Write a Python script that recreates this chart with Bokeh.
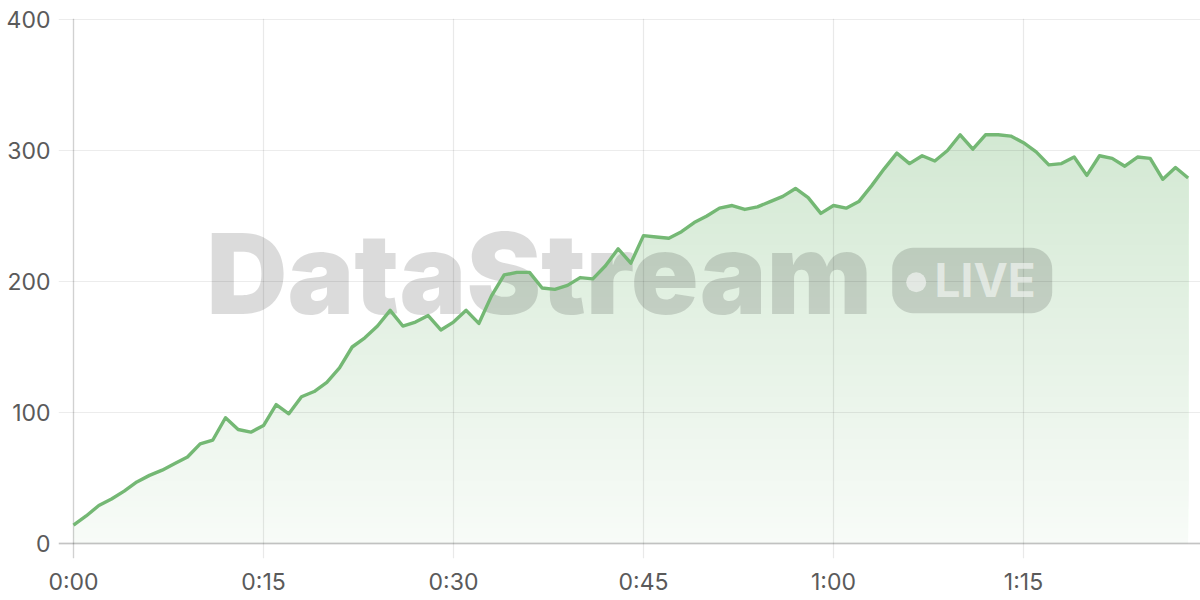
import numpy as np
from bokeh.plotting import figure
from bokeh.models import FixedTicker, Range1d
from bokeh.core.properties import value
from bokeh.embed import file_html
from bokeh.resources import INLINE

# ---- data ----
seconds = list(range(89))
viewers = [14, 21, 29, 34, 40, 47, 52, 56, 61, 66,
           76, 79, 96, 87, 85, 90, 106, 99, 112, 116,
           123, 134, 150, 157, 166, 178, 166, 169, 174, 163,
           169, 178, 168, 189, 205, 207, 207, 195, 194, 197,
           203, 202, 212, 225, 214, 235, 234, 233, 238, 245,
           250, 256, 258, 255, 257, 261, 265, 271, 264, 252,
           258, 256, 261, 273, 286, 298, 290, 296, 292, 300,
           312, 301, 312, 312, 311, 306, 299, 289, 290, 295,
           281, 296, 294, 288, 295, 294, 278, 287, 279]
x_tick_values = [0, 15, 30, 45, 60, 75]
x_tick_labels = ["0:00", "0:15", "0:30", "0:45", "1:00", "1:15"]
y_tick_values = [0, 100, 200, 300, 400]
watermark_text = "DataStream"
badge_text = "LIVE"

LINE_RGB = (116, 184, 116)
LINE_COLOR = "#74b874"
FONT = "Inter"

# canvas pixel helpers (decorative overlay placement only)
PX_X = 190 / 15.0
PX_Y = 1.31
def dx(px):
    return (px - 73) / PX_X
def dy(py):
    return (543 - py) / PX_Y

X0, X1 = dx(58), dx(1200)
Y0, Y1 = dy(558), dy(18)

p = figure(width=1200, height=600, output_backend="svg", toolbar_location=None,
           x_range=Range1d(X0, X1), y_range=Range1d(Y0, Y1),
           min_border_left=58, min_border_right=0, min_border_top=18, min_border_bottom=42)
p.outline_line_color = None
p.background_fill_color = "white"
p.border_fill_color = "white"
p.grid.visible = False

for ax in (p.xaxis[0], p.yaxis[0]):
    ax.axis_line_color = None
    ax.major_tick_line_color = None
    ax.minor_tick_line_color = None
    ax.major_tick_out = 0
    ax.major_tick_in = 0
    ax.major_label_text_font = FONT
    ax.major_label_text_font_size = "23px"
    ax.major_label_text_color = "#5a5a5a"
p.xaxis.ticker = FixedTicker(ticks=x_tick_values)
p.xaxis.major_label_overrides = {v: l for v, l in zip(x_tick_values, x_tick_labels)}
p.xaxis.major_label_standoff = 9
p.yaxis.ticker = FixedTicker(ticks=y_tick_values)
p.yaxis.major_label_standoff = 8

# gradient fill: stacked opaque layers, each from its level up to the data line
v = np.array(viewers, dtype=float)
step = 4.0
def alpha_at(y):
    return min(0.05 + 0.27 * y / 312.0, 0.6)
def mix(a):
    r, g, b = (round(255 - a * (255 - c)) for c in LINE_RGB)
    return "#%02x%02x%02x" % (r, g, b)
for lo in np.arange(0, v.max(), step):
    p.varea(x=seconds, y1=np.minimum(v, lo), y2=v,
            fill_color=mix(alpha_at(lo + step / 2)), fill_alpha=1.0)

# grid lines above fill
p.segment(x0=x_tick_values, y0=[Y0] * len(x_tick_values), x1=x_tick_values, y1=[Y1] * len(x_tick_values),
          line_color="black", line_alpha=0.085, line_width=1.2)
p.segment(x0=[X0] * len(y_tick_values), y0=y_tick_values, x1=[X1] * len(y_tick_values), y1=y_tick_values,
          line_color="black", line_alpha=0.075, line_width=1.2)
# axis lines
p.segment(x0=[0], y0=[Y0], x1=[0], y1=[Y1], line_color="black", line_alpha=0.1, line_width=1.5)
p.segment(x0=[X0], y0=[0], x1=[X1], y1=[0], line_color="black", line_alpha=0.17, line_width=2)

# watermark
p.text(x=[dx(206)], y=[dy(272.7)], text=[watermark_text], text_font=value("Inter Black, Inter"),
       text_font_style="bold", text_font_size="112px", text_color="black",
       text_alpha=0.14, text_baseline="middle", text_align="left")

l, r, t, b, rad = 891.7, 1051.7, 247.3, 312.7, 21.0
pts = []
for cx, cy, a0 in [(l + rad, t + rad, 180), (r - rad, t + rad, 270),
                   (r - rad, b - rad, 0), (l + rad, b - rad, 90)]:
    for th in np.linspace(np.radians(a0), np.radians(a0 + 90), 12):
        pts.append((cx + rad * np.cos(th), cy + rad * np.sin(th)))
p.patch([dx(px) for px, _ in pts], [dy(py) for _, py in pts],
        fill_color="black", fill_alpha=0.14, line_color=None)
p.scatter(x=[dx(915.7)], y=[dy(281.7)], size=20, marker="circle",
          fill_color="white", fill_alpha=0.55, line_color=None)
p.text(x=[dx(934)], y=[dy(279.5)], text=[badge_text], text_font=value(FONT),
       text_font_style="bold", text_font_size="46px", text_color="white",
       text_alpha=0.55, text_baseline="middle", text_align="left")

# line
p.line(seconds, viewers, line_color=LINE_COLOR, line_width=3.4, line_join="round")

open("out.html", "w").write(file_html(p, INLINE))
